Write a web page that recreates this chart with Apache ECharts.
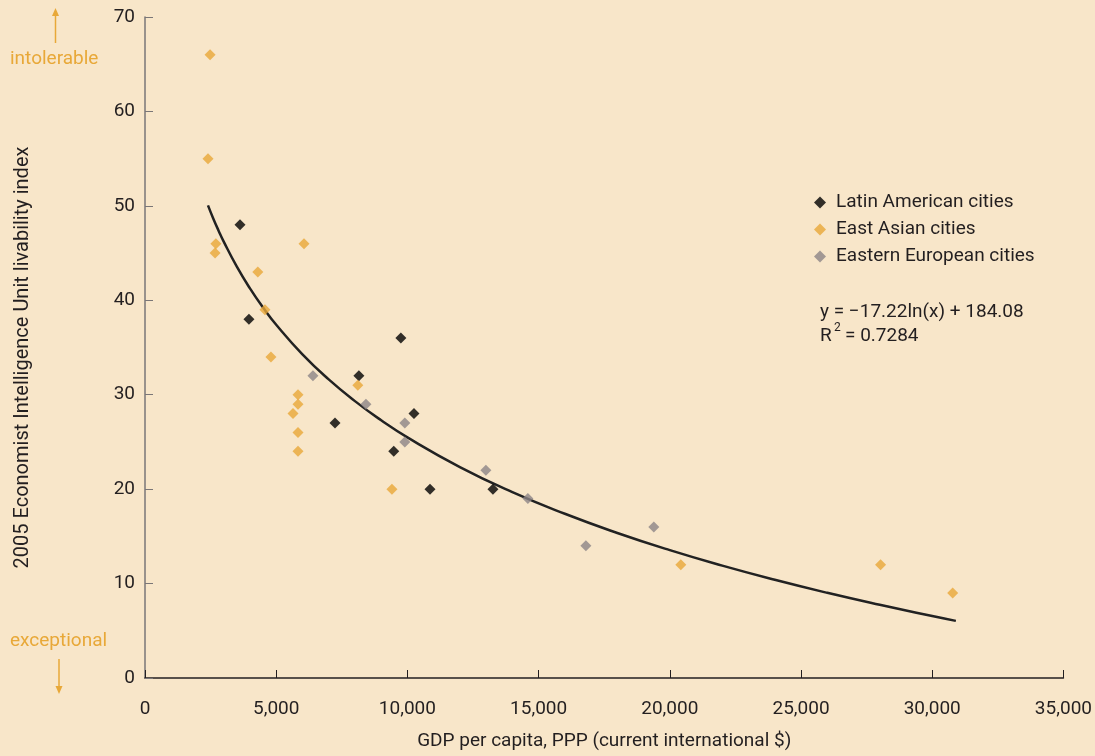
<!DOCTYPE html>
<html>
<head>
<meta charset="utf-8">
<script src="https://cdn.jsdelivr.net/npm/echarts@6/dist/echarts.min.js"></script>
<style>
html,body{margin:0;padding:0;background:#f8e6c9;}
#chart{width:1095px;height:756px;}
</style>
</head>
<body>
<div id="chart"></div>
<script>
// ---- data ----
const xTicks = [0, 5000, 10000, 15000, 20000, 25000, 30000, 35000];
const yTicks = [0, 10, 20, 30, 40, 50, 60, 70];

const latinGdp   = [3620, 3960, 7240, 8150, 9750, 9480, 10250, 10860, 13260];
const latinIndex = [48, 38, 27, 32, 36, 24, 28, 20, 20];

const eastAsiaGdp   = [2480, 2400, 2700, 2670, 6060, 4300, 4570, 4800, 5830, 5830, 5640, 5830, 5830, 8110, 9410, 20420, 28030, 30780];
const eastAsiaIndex = [66, 55, 46, 45, 46, 43, 39, 34, 30, 29, 28, 26, 24, 31, 20, 12, 12, 9];

const eastEuGdp   = [6400, 8420, 9900, 9900, 12990, 14590, 16800, 19390];
const eastEuIndex = [32, 29, 27, 25, 22, 19, 14, 16];

// trend line
const trendGdp   = [2400, 2600, 2800, 3000, 3500, 4000, 4500, 5000, 6000, 7000, 8000, 9000, 10000, 12000, 14000, 16000, 18000, 20000, 22000, 24000, 26000, 28000, 30000, 30900];
const trendIndex = [50.05, 48.67, 47.40, 46.21, 43.56, 41.26, 39.23, 37.41, 34.27, 31.62, 29.32, 27.29, 25.48, 22.34, 19.68, 17.39, 15.36, 13.54, 11.90, 10.40, 9.02, 7.75, 6.56, 6.05];

const seriesNames = ['Latin American cities', 'East Asian cities', 'Eastern European cities'];
const equationText = 'y = \u221217.22ln(x) + 184.08';
const r2Value = '0.7284';

// ---- chart ----
const FONT = '"Liberation Sans Narrow", "Roboto", sans-serif';
const ORANGE = '#e8a838';
const GREY = '#8c8587';
const DARK = '#231f20';

function zip(a, b) { return a.map((v, i) => [v, b[i]]); }

const chart = echarts.init(document.getElementById('chart'), null, {renderer: 'canvas'});
chart.setOption({
  backgroundColor: '#f8e6c9',
  animation: false,
  textStyle: {fontFamily: FONT},
  grid: {left: 145, right: 31, top: 17, bottom: 74, containLabel: false},
  xAxis: {
    type: 'value', min: xTicks[0], max: xTicks[xTicks.length - 1], interval: 5000,
    name: 'GDP per capita, PPP (current international $)',
    nameLocation: 'middle', nameGap: 54,
    nameTextStyle: {fontFamily: FONT, fontSize: 19, color: DARK},
    axisLine: {show: true, lineStyle: {color: DARK, width: 1.5}},
    axisTick: {show: true, inside: true, length: 8, lineStyle: {color: DARK, width: 1}},
    axisLabel: {fontFamily: FONT, fontSize: 19, color: DARK, margin: 22,
      formatter: v => v.toLocaleString('en-US')},
    splitLine: {show: false}
  },
  yAxis: {
    type: 'value', min: yTicks[0], max: yTicks[yTicks.length - 1], interval: 10,
    name: '2005 Economist Intelligence Unit livability index',
    nameLocation: 'middle', nameGap: 112, nameRotate: 90,
    nameTextStyle: {fontFamily: FONT, fontSize: 20, color: DARK, padding: [0, 20, 0, 0]},
    axisLine: {show: true, lineStyle: {color: '#7a7677', width: 1.5}},
    axisTick: {show: true, inside: true, length: 8, lineStyle: {color: '#7a7677', width: 1}},
    axisLabel: {fontFamily: FONT, fontSize: 19, color: DARK, margin: 10},
    splitLine: {show: false}
  },
  legend: {
    orient: 'vertical', left: 809, top: 188, itemGap: 8,
    itemWidth: 12, itemHeight: 12, icon: 'diamond',
    textStyle: {fontFamily: FONT, fontSize: 19, color: DARK, padding: [0, 0, 0, 5]},
    data: seriesNames
  },
  series: [
    {name: seriesNames[0], type: 'scatter', symbol: 'diamond', symbolSize: 11,
      itemStyle: {color: '#000000'}, data: zip(latinGdp, latinIndex), z: 3},
    {name: seriesNames[1], type: 'scatter', symbol: 'diamond', symbolSize: 11,
      itemStyle: {color: ORANGE}, data: zip(eastAsiaGdp, eastAsiaIndex), z: 3},
    {name: seriesNames[2], type: 'scatter', symbol: 'diamond', symbolSize: 11,
      itemStyle: {color: GREY}, data: zip(eastEuGdp, eastEuIndex), z: 3},
    {name: 'trend', type: 'line', smooth: true, symbol: 'none',
      lineStyle: {color: '#222222', width: 2.5}, data: zip(trendGdp, trendIndex), z: 2}
  ],
  graphic: [
    {type: 'text', left: 820, top: 303, style: {
      text: equationText, font: '19px ' + FONT, fill: DARK}},
    {type: 'text', left: 820, top: 327, style: {text: 'R', font: '19px ' + FONT, fill: DARK}},
    {type: 'text', left: 834, top: 322, style: {text: '2', font: '12px ' + FONT, fill: DARK}},
    {type: 'text', left: 845, top: 327, style: {text: '= ' + r2Value, font: '19px ' + FONT, fill: DARK}},
    // intolerable
    {type: 'line', shape: {x1: 55.5, y1: 43, x2: 55.5, y2: 13}, style: {stroke: ORANGE, lineWidth: 1.5}},
    {type: 'polygon', shape: {points: [[52, 16], [59, 16], [55.5, 8]]}, style: {fill: ORANGE}},
    {type: 'text', left: 10, top: 50, style: {text: 'intolerable', font: '19px ' + FONT, fill: ORANGE}},
    // exceptional
    {type: 'text', left: 10, top: 632, style: {text: 'exceptional', font: '19px ' + FONT, fill: ORANGE}},
    {type: 'line', shape: {x1: 59, y1: 659, x2: 59, y2: 688}, style: {stroke: ORANGE, lineWidth: 1.5}},
    {type: 'polygon', shape: {points: [[55.5, 686], [62.5, 686], [59, 694]]}, style: {fill: ORANGE}}
  ]
});
</script>
</body>
</html>
